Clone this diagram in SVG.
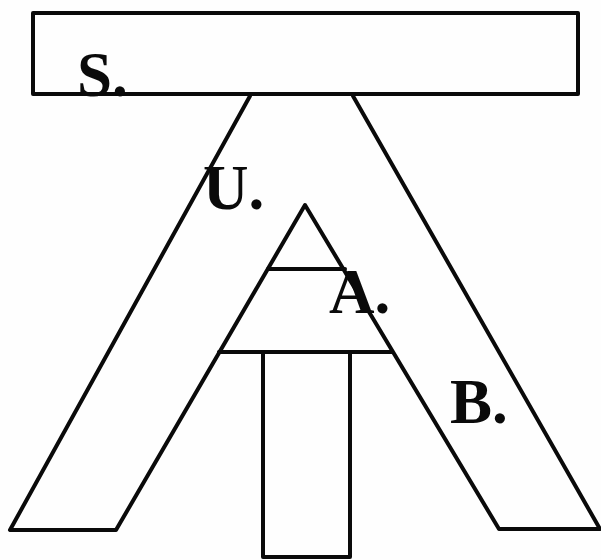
<svg xmlns="http://www.w3.org/2000/svg" width="601" height="560" viewBox="0 0 601 560">
<style>
.l{fill:none;stroke:#0a0a0a;stroke-width:4;stroke-linejoin:round;stroke-linecap:round}
.t{font-family:"Liberation Serif",serif;font-size:63px;font-weight:bold;fill:#0a0a0a}
</style>
<rect width="601" height="560" fill="#fefefe"/>
<g id="connectors">
<path class="l" d="M250 96L10 530H116L305 205L499 529H600L353 96"/>
<path class="l" d="M268 269H345"/>
<path class="l" d="M219 352H392"/>
</g>
<g id="S"><rect class="l" x="33" y="13" width="545" height="81"/><text class="t" x="77" y="96">S.</text></g>
<g id="U"><text class="t" x="203" y="209">U.</text></g>
<g id="A"><text class="t" x="329" y="313">A.</text></g>
<g id="B"><text class="t" x="450" y="423">B.</text></g>
<g id="T"><path class="l" d="M263 353V557H350V353"/></g>
</svg>
